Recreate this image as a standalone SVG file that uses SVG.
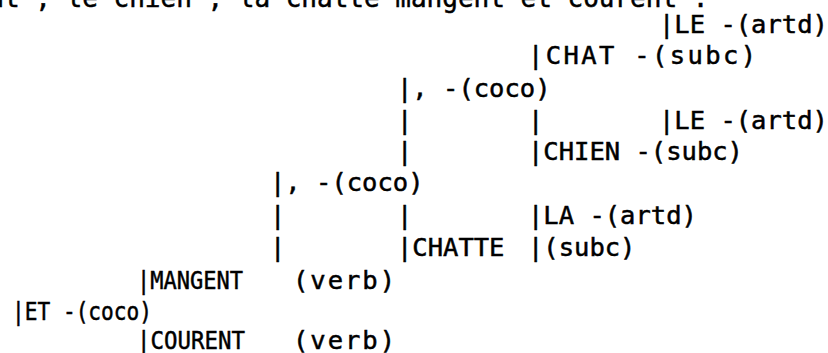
<svg xmlns="http://www.w3.org/2000/svg" width="828" height="353" viewBox="0 0 828 353">
  <style>
    .t { font-family: "DejaVu Sans Mono", "Liberation Mono", monospace; font-size: 25.5px; fill: #000; stroke: #000; stroke-width: 0.5; white-space: pre; }
    .head { font-family: "DejaVu Sans Mono", "Liberation Mono", monospace; font-size: 26px; fill: #000; stroke: #000; stroke-width: 0.5; white-space: pre; }
  </style>
  <rect width="828" height="353" fill="#fff"/>

  <!-- sentence line, mostly above the top edge -->
  <text class="head" x="-43" y="7">chat , le chien , la chatte mangent et courent .</text>

  <!-- vertical continuation bars of the tree -->
  <g id="connectors">
    <text class="t" x="397" y="129">|</text>
    <text class="t" x="528" y="129">|</text>
    <text class="t" x="397" y="160">|</text>
    <text class="t" x="270" y="224">|</text>
    <text class="t" x="397" y="224">|</text>
    <text class="t" x="270" y="256">|</text>
  </g>

  <g id="le1"><text class="t" x="659" y="33">|LE -(artd)</text></g>
  <g id="chat"><text class="t" x="528" y="64" textLength="228" lengthAdjust="spacing">|CHAT -(subc)</text></g>
  <g id="coco1"><text class="t" x="397" y="97">|, -(coco)</text></g>
  <g id="le2"><text class="t" x="659" y="129">|LE -(artd)</text></g>
  <g id="chien"><text class="t" x="528" y="160">|CHIEN -(subc)</text></g>
  <g id="coco2"><text class="t" x="270" y="191">|, -(coco)</text></g>
  <g id="la"><text class="t" x="528" y="224">|LA -(artd)</text></g>
  <g id="chatte"><text class="t" x="397" y="256">|CHATTE</text></g>
  <g id="chatte-cat"><text class="t" x="528" y="256">|(subc)</text></g>
  <g id="mangent">
    <text class="t" x="137" y="289" textLength="106" lengthAdjust="spacingAndGlyphs">|MANGENT</text>
    <text class="t" x="293" y="289" textLength="102" lengthAdjust="spacing">(verb)</text>
  </g>
  <g id="et"><text class="t" x="12" y="320" textLength="140" lengthAdjust="spacingAndGlyphs">|ET -(coco)</text></g>
  <g id="courent">
    <text class="t" x="137" y="349" textLength="108" lengthAdjust="spacingAndGlyphs">|COURENT</text>
    <text class="t" x="293" y="349" textLength="102" lengthAdjust="spacing">(verb)</text>
  </g>
</svg>
